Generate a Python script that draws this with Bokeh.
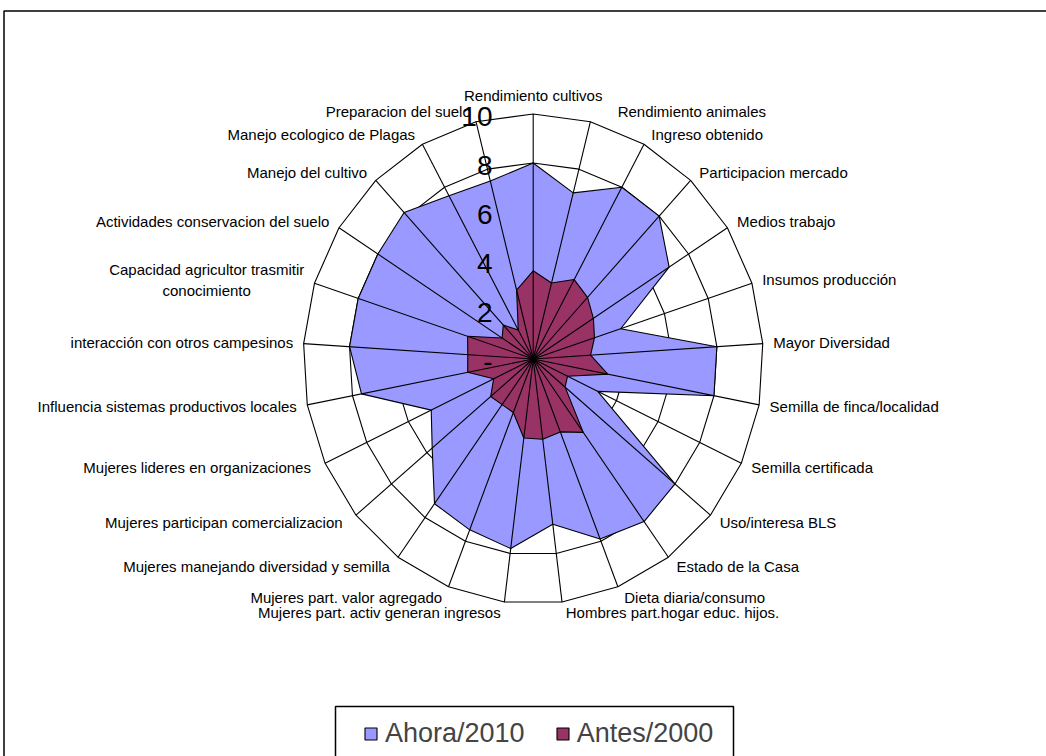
import math
from bokeh.plotting import figure
from bokeh.models import Range1d, Legend, LegendItem, BoxAnnotation
from bokeh.embed import file_html
from bokeh.resources import INLINE
from bokeh.core.properties import value

# ---------------- data ----------------
categories = [
    "Rendimiento cultivos", "Rendimiento animales", "Ingreso obtenido",
    "Participacion mercado", "Medios trabajo", "Insumos producción",
    "Mayor Diversidad", "Semilla de finca/localidad", "Semilla certificada",
    "Uso/interesa BLS", "Estado de la Casa", "Dieta diaria/consumo",
    "Hombres part.hogar educ. hijos.", "Mujeres part. activ generan ingresos",
    "Mujeres part. valor agregado", "Mujeres manejando diversidad y semilla",
    "Mujeres participan  comercializacion", "Mujeres  lideres en organizaciones",
    "Influencia sistemas productivos locales", "interacción con otros campesinos",
    "Capacidad agricultor trasmitir\nconocimiento", "Actividades conservacion del suelo",
    "Manejo del cultivo", "Manejo ecologico de Plagas", "Preparacion del suelo",
]
ahora_2010 = [8, 7, 8, 8, 7, 4, 8, 8, 3.1, 8, 8.2, 7.9, 6.8, 7.8, 7.5, 7.3,
              5.7, 4.9, 7.6, 8, 8, 8, 8.2, 7.6, 7.5]
antes_2000 = [3.6, 3.2, 3.7, 3.45, 3.1, 2.8, 2.5, 3.3, 1.65, 1.8, 3.7, 3.2, 3.3,
              3.25, 2.35, 2.3, 2.4, 1.9, 2.9, 2.85, 3.0, 1.6, 1.9, 1.35, 2.9]
series_names = ["Ahora/2010", "Antes/2000"]
tick_values = [0, 2, 4, 6, 8, 10]
tick_labels = ["-", "2", "4", "6", "8", "10"]

# ---------------- layout / style ----------------
W, H = 1046, 756
CX, CY = 532.7, 358.5      # radar centre in canvas px
SX, SY = 23.0, 24.5        # px per value unit (x, y)
RMAX = 10
FONT = "Liberation Sans"
BLUE = "#9999FF"
MAROON = "#993366"
label_nudge_px = {1: 22}

N = len(categories)
theta = [2 * math.pi * k / N for k in range(N)]

def px(vals):
    return [v * math.sin(t) for v, t in zip(vals, theta)]

def py(vals):
    return [v * math.cos(t) for v, t in zip(vals, theta)]

def dx_(pix):   # canvas px -> data x
    return (pix - CX) / SX

def dy_(pix):   # canvas px -> data y
    return (CY - pix) / SY

AW = {' ': 278, 'a': 556, 'b': 556, 'c': 500, 'd': 556, 'e': 556, 'f': 278, 'g': 556,
      'h': 556, 'i': 222, 'j': 222, 'k': 500, 'l': 222, 'm': 833, 'n': 556, 'o': 556,
      'p': 556, 'q': 556, 'r': 333, 's': 500, 't': 278, 'u': 556, 'v': 500, 'w': 722,
      'x': 500, 'y': 500, 'z': 500, 'C': 722, '/': 278, '.': 278}

def text_w(s, size):
    return sum(AW.get(ch, 600) for ch in s) / 1000.0 * size

p = figure(width=W, height=H, output_backend="svg", toolbar_location=None,
           x_range=Range1d(dx_(0), dx_(W)), y_range=Range1d(dy_(H), dy_(0)),
           x_axis_type=None, y_axis_type=None, min_border=0)
p.grid.visible = False
p.outline_line_color = None
p.background_fill_color = "white"
p.border_fill_color = "white"

# chart frame
p.add_layout(BoxAnnotation(left=dx_(3.5), right=dx_(W + 20), top=dy_(10.5), bottom=dy_(H + 20),
                           fill_alpha=0, line_color="black", line_alpha=1, line_width=1.5,
                           level="underlay"))

# grid rings
for t in tick_values[1:]:
    ring = [t] * N
    xs = px(ring); ys = py(ring)
    p.line(xs + xs[:1], ys + ys[:1], line_color="black", line_width=1.1)

# series
r_blue = p.patch(px(ahora_2010), py(ahora_2010), fill_color=BLUE, line_color="black", line_width=1.1)
r_mar = p.patch(px(antes_2000), py(antes_2000), fill_color=MAROON, line_color="black", line_width=1.1)

# spokes
outer = [RMAX] * N
p.segment(x0=[0] * N, y0=[0] * N, x1=px(outer), y1=py(outer), line_color="black", line_width=1.1)

# value tick labels
p.text(x=[-40.7 / SX] * len(tick_values), y=[t - 2.5 / SY for t in tick_values],
       text=tick_labels, text_align="right", text_baseline="middle",
       text_font=value(FONT), text_font_size="28px", text_color="black")

# category labels
groups = {"left": ([], [], []), "right": ([], [], []), "center": ([], [], [])}
LF = 15
for k, name in enumerate(categories):
    s, c = math.sin(theta[k]), math.cos(theta[k])
    vx, vy = RMAX * s, RMAX * c
    if abs(s) < 0.1:
        align, ddx, ddy = "center", 0.0, -18.5 * c
    else:
        align = "left" if s > 0 else "right"
        ddx = 10.5 * math.sqrt(abs(s)) * (1 if s > 0 else -1)
        ddy = -11.0 * c
    ddx += label_nudge_px.get(k, 0)
    x = vx + ddx / SX
    y = vy - ddy / SY
    if "\n" in name:
        w = max(text_w(line, LF) for line in name.split("\n"))
        x = x + (w / 2 if align == "left" else -w / 2) / SX
        align = "center"
    g = groups[align]
    g[0].append(x); g[1].append(y); g[2].append(name)

for align, (xs, ys, ts) in groups.items():
    if xs:
        p.text(x=xs, y=ys, text=ts, text_align=align, text_baseline="middle",
               text_font=value(FONT), text_font_size=f"{LF}px", text_color="black",
               text_line_height=1.25)

# legend box + legend
p.add_layout(BoxAnnotation(left=dx_(335), right=dx_(733), top=dy_(706), bottom=dy_(H + 40),
                           fill_color="white", fill_alpha=1, line_color="black", line_alpha=1,
                           line_width=1.5))
legend = Legend(items=[LegendItem(label=series_names[0], renderers=[r_blue]),
                       LegendItem(label=series_names[1], renderers=[r_mar])],
                orientation="horizontal", location=(363, H - 748.5),
                border_line_alpha=0, background_fill_alpha=0,
                padding=0, spacing=30, label_standoff=7, margin=0,
                glyph_width=15, glyph_height=15,
                label_text_font=FONT, label_text_font_size="27px")
p.add_layout(legend)

open("out.html", "w").write(file_html(p, INLINE))
